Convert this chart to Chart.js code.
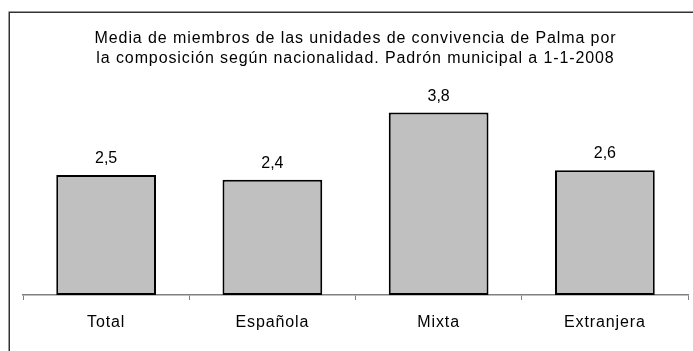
<!DOCTYPE html>
<html>
<head>
<meta charset="utf-8">
<script src="https://cdn.jsdelivr.net/npm/chart.js@4/dist/chart.umd.min.js"></script>
<style>
  html, body { margin: 0; padding: 0; background: #fff; }
  #wrap { width: 693px; height: 351px; position: relative; }
</style>
</head>
<body>
<div id="wrap"><canvas id="chart" width="693" height="351"></canvas></div>
<script>
// Composición de la unidad de convivencia según nacionalidad
const categories = ['Total', 'Española', 'Mixta', 'Extranjera'];
// Media de miembros por unidad de convivencia
const mediaMiembros = [2.5, 2.4, 3.8, 2.6];
const titleLines = [
  'Media de miembros de las unidades de convivencia de Palma por',
  'la composición según nacionalidad. Padrón municipal a 1-1-2008'
];

const FONT = "'Liberation Sans', Arial, sans-serif";

// Marco exterior del gráfico y espaciado de letras para todos los textos
const framePlugin = {
  id: 'frame',
  beforeDraw(chart) {
    const ctx = chart.ctx;
    ctx.letterSpacing = '0.9px';
    ctx.save();
    ctx.fillStyle = '#fff';
    ctx.fillRect(0, 0, chart.width, chart.height);
    ctx.strokeStyle = '#333';
    ctx.lineWidth = 1.5;
    ctx.strokeRect(9.25, 12.25, 720, 400);
    ctx.restore();
  }
};

// Valor encima de cada barra, con coma decimal
const valueLabels = {
  id: 'valueLabels',
  afterDatasetsDraw(chart) {
    const ctx = chart.ctx;
    const meta = chart.getDatasetMeta(0);
    const data = chart.data.datasets[0].data;
    ctx.save();
    ctx.letterSpacing = '0px';
    ctx.font = '16px ' + FONT;
    ctx.fillStyle = '#000';
    ctx.textAlign = 'center';
    ctx.textBaseline = 'alphabetic';
    meta.data.forEach((bar, i) => {
      const txt = data[i].toFixed(1).replace('.', ',');
      ctx.fillText(txt, bar.x, bar.y - 12);
    });
    ctx.restore();
  }
};

new Chart(document.getElementById('chart'), {
  type: 'bar',
  data: {
    labels: categories,
    datasets: [{
      data: mediaMiembros,
      backgroundColor: '#C0C0C0',
      borderColor: '#000',
      borderWidth: 2,
      borderSkipped: false,
      categoryPercentage: 1.0,
      barPercentage: 0.6
    }]
  },
  options: {
    responsive: false,
    animation: false,
    devicePixelRatio: 1,
    layout: { padding: { left: 23, right: 5, top: 0, bottom: 5.8 } },
    plugins: {
      legend: { display: false },
      tooltip: { enabled: false },
      title: {
        display: true,
        text: titleLines,
        color: '#000',
        font: { family: FONT, size: 16, weight: 'normal', lineHeight: 1.2 },
        padding: { top: 29.4, bottom: 35.2 }
      }
    },
    scales: {
      x: {
        grid: {
          offset: true,
          drawOnChartArea: false,
          drawTicks: true,
          tickLength: 5,
          color: '#808080',
          lineWidth: 1
        },
        border: { display: true, color: '#808080', width: 1.5 },
        ticks: {
          color: '#000',
          padding: 13,
          font: { family: FONT, size: 16 }
        }
      },
      y: {
        display: false,
        min: 0,
        max: 4
      }
    }
  },
  plugins: [framePlugin, valueLabels]
});
</script>
</body>
</html>
